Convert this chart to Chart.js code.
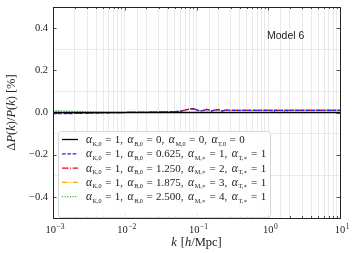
<!DOCTYPE html>
<html>
<head>
<meta charset="utf-8">
<script src="https://cdn.jsdelivr.net/npm/chart.js@4.4.0/dist/chart.umd.min.js"></script>
<style>
  html, body { margin: 0; padding: 0; background: #fff; }
  #wrap { width: 354px; height: 253px; }
</style>
</head>
<body>
<div id="wrap"><canvas id="myChart" width="354" height="253"></canvas></div>
<script>
// wavenumbers k [h/Mpc]
const kVals = [0.001, 0.0013, 0.0018, 0.0025, 0.0035, 0.005, 0.007, 0.01, 0.015, 0.02, 0.03, 0.045,
  0.06, 0.07, 0.08, 0.087, 0.095, 0.105, 0.113, 0.125, 0.139, 0.15, 0.163, 0.18, 0.2, 0.215, 0.23,
  0.26, 0.29, 0.33, 0.4, 0.6, 1, 1.47, 2, 4, 10];

// Delta P / P [%] for each model
const refVals = kVals.map(() => 0);
const blueVals = [-0.006, -0.006, -0.005, -0.004, -0.003, -0.002, -0.001, 0, 0.001, 0.001, 0.002, 0.003,
  0.006, 0.012, 0.016, 0.018, 0.016, 0.010, 0.008, 0.010, 0.015, 0.012, 0.008, 0.011, 0.014, 0.010, 0.008,
  0.012, 0.010, 0.010, 0.010, 0.010, 0.010, 0.010, 0.010, 0.010, 0.010];
const redVals = [-0.004, -0.004, -0.004, -0.003, -0.002, -0.001, -0.001, 0, 0.001, 0.001, 0.002, 0.003,
  0.006, 0.012, 0.016, 0.018, 0.016, 0.010, 0.008, 0.010, 0.015, 0.012, 0.008, 0.011, 0.014, 0.010, 0.008,
  0.012, 0.010, 0.010, 0.010, 0.010, 0.010, 0.010, 0.010, 0.010, 0.010];
const orangeVals = [0.002, 0.001, 0.000, 0.000, -0.001, -0.001, 0, 0, 0.001, 0.001, 0.002, 0.003,
  0.006, 0.012, 0.016, 0.018, 0.016, 0.010, 0.008, 0.010, 0.015, 0.012, 0.008, 0.011, 0.014, 0.010, 0.008,
  0.012, 0.010, 0.010, 0.010, 0.010, 0.011, 0.011, 0.011, 0.011, 0.011];
const greenVals = [0.009, 0.008, 0.006, 0.004, 0.002, 0.001, 0, 0, 0.001, 0.001, 0.002, 0.003,
  0.006, 0.012, 0.016, 0.018, 0.016, 0.010, 0.008, 0.010, -0.004, 0.012, 0.008, 0.011, 0.014, 0.010, 0.008,
  0.012, 0.010, 0.010, 0.010, 0.010, 0.011, -0.002, 0.011, 0.011, 0.011];

const yTicks = [-0.4, -0.2, 0.0, 0.2, 0.4];
const xDecades = [-3, -2, -1, 0, 1];

// legend entries
const legendB = ['0', '0.625', '1.250', '1.875', '2.500'];
const legendM = ['0', '1', '2', '3', '4'];
const legendT = ['0', '1', '1', '1', '1'];
const legendSub = ['0', '\u2217', '\u2217', '\u2217', '\u2217'];

const colors = ['#000000', '#2222ff', '#ff0000', '#ffa500', '#2ca02c'];
const dashes = [[], [3.7, 1.6], [6.4, 1.6, 1, 1.6], [5, 1.3, 1, 1.3, 1, 1.3], [1, 1.65]];
const widths = [1.3, 1.2, 1.2, 1.2, 1.3];

const series = [refVals, blueVals, redVals, orangeVals, greenVals];
const SERIF = '"Liberation Serif", "DejaVu Serif", serif';

// parts: [text, size, italic, dy] or a number = horizontal gap
function richText(ctx, x, y, parts) {
  parts.forEach((p) => {
    if (typeof p === 'number') { x += p; return; }
    const [t, size, it, dy] = p;
    ctx.font = (it ? 'italic ' : '') + size + 'px ' + SERIF;
    ctx.fillText(t, x, y + (dy || 0));
    x += ctx.measureText(t).width;
  });
  return x;
}

function richWidth(ctx, parts) {
  let w = 0;
  parts.forEach((p) => {
    if (typeof p === 'number') { w += p; return; }
    const [t, size, it] = p;
    ctx.font = (it ? 'italic ' : '') + size + 'px ' + SERIF;
    w += ctx.measureText(t).width;
  });
  return w;
}

function alphaTerm(sub, val, last) {
  const out = [['\u03b1', 11.5, true, 0], 0.5, [sub, 6.2, false, 2.5], 3.5, ['=', 11, false, 0], 3.5, [val, 11, false, 0]];
  if (!last) out.push([',', 11, false, 0], 4.5);
  return out;
}

const extras = {
  id: 'extras',
  afterDraw(chart) {
    const { ctx, chartArea: a, scales: { x, y } } = chart;
    ctx.save();
    ctx.fillStyle = '#222';
    ctx.strokeStyle = '#222';

    // inward ticks on all sides
    ctx.lineWidth = 0.8;
    ctx.beginPath();
    xDecades.forEach((e) => {
      for (let m = 1; m < 10; m++) {
        const v = m * Math.pow(10, e);
        if (v > 10) break;
        const px = Math.round(x.getPixelForValue(v)) + 0.5;
        const len = m === 1 ? 3.5 : 2;
        ctx.moveTo(px, a.bottom); ctx.lineTo(px, a.bottom - len);
        ctx.moveTo(px, a.top); ctx.lineTo(px, a.top + len);
      }
    });
    yTicks.forEach((v) => {
      const py = Math.round(y.getPixelForValue(v)) + 0.5;
      ctx.moveTo(a.left, py); ctx.lineTo(a.left + 3.5, py);
      ctx.moveTo(a.right, py); ctx.lineTo(a.right - 3.5, py);
    });
    ctx.stroke();

    // frame
    ctx.lineWidth = 1;
    ctx.strokeRect(Math.round(a.left) + 0.5, Math.round(a.top) + 0.5, Math.round(a.right - a.left), Math.round(a.bottom - a.top));

    // y tick labels
    ctx.textBaseline = 'middle';
    ctx.textAlign = 'right';
    ctx.font = '10.5px ' + SERIF;
    yTicks.forEach((v) => {
      const s = (v < 0 ? '\u2212' : '') + Math.abs(v).toFixed(1);
      ctx.fillText(s, a.left - 5, y.getPixelForValue(v));
    });

    // x tick labels 10^e
    ctx.textAlign = 'left';
    ctx.textBaseline = 'alphabetic';
    xDecades.forEach((e) => {
      const sup = e < 0 ? '\u2212' + Math.abs(e) : String(e);
      const parts = [['10', 10.5, false, 0], 0.5, [sup, 7.5, false, -4.5]];
      const w = richWidth(ctx, parts);
      richText(ctx, x.getPixelForValue(Math.pow(10, e)) - w / 2 + 2, a.bottom + 15, parts);
    });

    // x title
    const xt = [['k', 12.5, true], 4, ['[', 12.5, false], ['h', 12.5, true], ['/Mpc]', 12.5, false]];
    richText(ctx, (a.left + a.right) / 2 - richWidth(ctx, xt) / 2, 246, xt);

    // y title
    ctx.save();
    ctx.translate(15, (a.top + a.bottom) / 2);
    ctx.rotate(-Math.PI / 2);
    const yt = [['\u0394', 12.5, false], ['P', 12.5, true], ['(', 12.5, false], ['k', 12.5, true], [')/', 12.5, false],
      ['P', 12.5, true], ['(', 12.5, false], ['k', 12.5, true], [')', 12.5, false], 3, ['[%]', 12.5, false]];
    richText(ctx, -richWidth(ctx, yt) / 2, 0, yt);
    ctx.restore();

    // annotation
    ctx.font = '10.5px "Liberation Sans", Arial, sans-serif';
    ctx.fillText('Model 6', 267, 39);

    // legend
    const lx = 58, ly = 131, lw = 212, lh = 86;
    ctx.fillStyle = 'rgba(255,255,255,0.85)';
    ctx.strokeStyle = '#d6d6d6';
    ctx.lineWidth = 1;
    ctx.beginPath();
    ctx.roundRect(lx + 0.5, ly + 0.5, lw, lh, 3);
    ctx.fill();
    ctx.stroke();
    for (let i = 0; i < 5; i++) {
      const ry = 139.5 + i * 14.3;
      ctx.strokeStyle = colors[i];
      ctx.lineWidth = widths[i];
      ctx.setLineDash(dashes[i]);
      ctx.beginPath();
      ctx.moveTo(62, ry); ctx.lineTo(78, ry);
      ctx.stroke();
      ctx.setLineDash([]);
      ctx.fillStyle = '#222';
      const s = legendSub[i];
      const parts = [].concat(
        alphaTerm('K,0', '1'),
        alphaTerm('B,0', legendB[i]),
        alphaTerm('M,' + s, legendM[i]),
        alphaTerm('T,' + s, legendT[i], true)
      );
      richText(ctx, 86, ry + 3.5, parts);
    }
    ctx.restore();
  }
};

const ctx = document.getElementById('myChart').getContext('2d');
new Chart(ctx, {
  type: 'line',
  data: {
    datasets: series.map((vals, i) => ({
      data: kVals.map((k, j) => ({ x: k, y: vals[j] })),
      borderColor: colors[i],
      borderWidth: widths[i],
      borderDash: dashes[i],
      pointRadius: 0,
      tension: 0,
      fill: false
    }))
  },
  options: {
    responsive: false,
    animation: false,
    devicePixelRatio: 1,
    layout: { padding: { left: 53, right: 14, top: 7, bottom: 35 } },
    plugins: { legend: { display: false }, tooltip: { enabled: false } },
    scales: {
      x: {
        type: 'logarithmic',
        min: 0.001,
        max: 10,
        border: { display: false },
        grid: { color: '#e4e4e4', lineWidth: 0.8, drawTicks: false },
        ticks: { display: false, autoSkip: false }
      },
      y: {
        min: -0.5,
        max: 0.5,
        border: { display: false },
        grid: { color: '#e4e4e4', lineWidth: 0.8, drawTicks: false },
        ticks: { display: false, stepSize: 0.2 }
      }
    }
  },
  plugins: [extras]
});
</script>
</body>
</html>
